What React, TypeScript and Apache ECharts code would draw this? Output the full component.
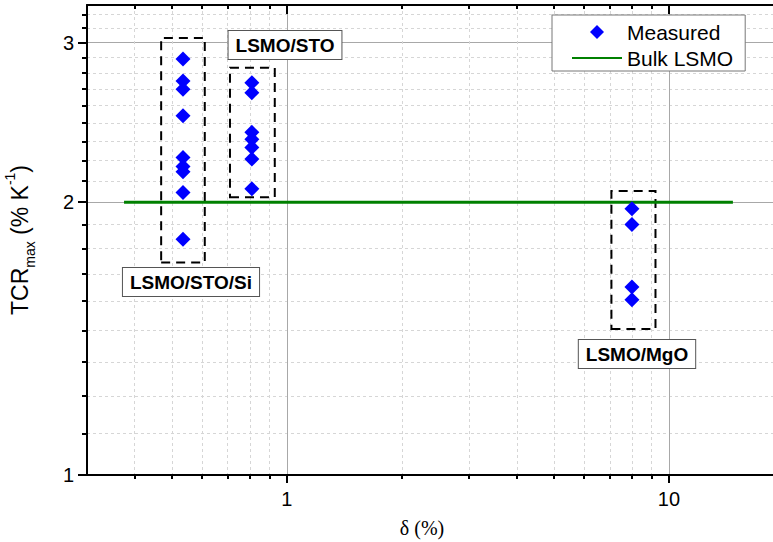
import React, { useEffect, useRef } from "react";
import * as echarts from "echarts";

// ---- data ----
const groupNames = ["LSMO/STO/Si", "LSMO/STO", "LSMO/MgO"];
const groupDelta = [0.535, 0.81, 8.0];
const tcrStoSi = [2.877, 2.72, 2.665, 2.49, 2.24, 2.19, 2.16, 2.05, 1.82];
const tcrSto = [2.709, 2.641, 2.388, 2.346, 2.298, 2.231, 2.069];
const tcrMgo = [1.967, 1.889, 1.612, 1.561];
const bulkDelta = [0.375, 14.7];
const bulkTcr = [2, 2];

// ---- ticks ----
const xMajorTicks = [1, 10];
const xMinorTicks = [0.4, 0.5, 0.6, 0.7, 0.8, 0.9, 2, 3, 4, 5, 6, 7, 8, 9, 20];
const yMajorTicks = [1, 2, 3];
const yMinorTicks = [
  1.111, 1.222, 1.333, 1.444, 1.556, 1.667, 1.778, 1.889,
  2.111, 2.222, 2.333, 2.444, 2.556, 2.667, 2.778, 2.889,
  3.111, 3.222,
];

// dashed group boxes (data space): [xMin, yMin, xMax, yMax]
const groupBoxes = [
  [0.469, 1.716, 0.61, 3.035],
  [0.71, 2.025, 0.93, 2.813],
  [7.07, 1.449, 9.22, 2.058],
];

const tcrGroups = [tcrStoSi, tcrSto, tcrMgo];

export default function App() {
  const ref = useRef<HTMLDivElement>(null);
  useEffect(() => {
    if (!ref.current) return;
    const chart = echarts.init(ref.current, null, { renderer: "svg" });
    const measured: number[][] = [];
    tcrGroups.forEach((arr, gi) => arr.forEach((v) => measured.push([groupDelta[gi], v])));
    const bulk = bulkDelta.map((d, i) => [d, bulkTcr[i]]);

    const font = "Liberation Sans, Arial, sans-serif";
    const baseX = { type: "log", min: 0.3, max: 20, gridIndex: 0 };
    const baseY = { type: "log", min: 1, max: 3.3, gridIndex: 0 };
    const labelBox = (text: string, x: number, y: number) => ({
      type: "text",
      x,
      y,
      z: 100,
      style: {
        text,
        x: 0,
        y: 0,
        align: "center",
        verticalAlign: "middle",
        font: `bold 19px ${font}`,
        fill: "#000",
        backgroundColor: "#fff",
        borderColor: "#555",
        borderWidth: 1,
        padding: [5, 7, 4, 7],
      },
    });

    chart.setOption({
      animation: false,
      backgroundColor: "#fff",
      grid: { left: 87, top: 5, right: -11, bottom: 67, containLabel: false, outerBoundsMode: "none" },
      legend: {
        orient: "vertical",
        left: 552,
        top: 15,
        itemWidth: 50,
        itemHeight: 14,
        itemGap: 4,
        padding: [6, 12, 2, 20],
        borderColor: "#777",
        borderWidth: 1,
        backgroundColor: "#fff",
        symbolKeepAspect: true,
        textStyle: { fontSize: 21, fontFamily: font, color: "#000", lineHeight: 22 },
        data: [
          { name: "Measured", icon: "path://M7,0 L14,7 L7,14 L0,7 Z", itemStyle: { color: "#0000ff", opacity: 1 } },
          { name: "Bulk LSMO", icon: "path://M0,0 L50,0 L50,2 L0,2 Z", itemStyle: { color: "#008000" } },
        ],
        z: 50,
      },
      xAxis: [
        {
          ...baseX,
          position: "bottom",
          axisLine: { show: true, lineStyle: { color: "#000", width: 2 } },
          axisTick: { show: true, customValues: xMajorTicks, length: 8, lineStyle: { color: "#000", width: 2 } },
          axisLabel: { customValues: xMajorTicks, fontSize: 20, fontFamily: font, color: "#000", margin: 14 },
          splitLine: { show: true, lineStyle: { color: "#a8a8a8", width: 1 } },
        },
        {
          ...baseX,
          position: "bottom",
          axisLine: { show: false },
          axisTick: { show: true, customValues: xMinorTicks, length: 4, lineStyle: { color: "#000", width: 2 } },
          axisLabel: { show: false },
          splitLine: { show: true, lineStyle: { color: "#d6d6d6", width: 1, type: [3, 3] } },
        },
        {
          ...baseX,
          position: "top",
          axisLine: { show: true, lineStyle: { color: "#000", width: 2 } },
          axisTick: { show: true, inside: true, customValues: xMajorTicks, length: 9, lineStyle: { color: "#000", width: 2 } },
          axisLabel: { show: false },
          splitLine: { show: false },
        },
        {
          ...baseX,
          position: "top",
          axisLine: { show: false },
          axisTick: { show: true, inside: true, customValues: xMinorTicks, length: 4, lineStyle: { color: "#000", width: 2 } },
          axisLabel: { show: false },
          splitLine: { show: false },
        },
      ],
      yAxis: [
        {
          ...baseY,
          position: "left",
          name: "{m|TCR}{s|max}{m| (% K}{p|-1}{m|)}",
          nameLocation: "middle",
          nameRotate: 90,
          nameGap: 50,
          nameTextStyle: {
            color: "#000",
            rich: {
              m: { fontSize: 23, fontFamily: font, color: "#000", lineHeight: 34 },
              s: { fontSize: 14, fontFamily: font, color: "#000", lineHeight: 14, verticalAlign: "bottom" },
              p: { fontSize: 14, fontFamily: font, color: "#000", lineHeight: 16, verticalAlign: "top" },
            },
          },
          axisLine: { show: true, lineStyle: { color: "#000", width: 2 } },
          axisTick: { show: true, customValues: yMajorTicks, length: 9, lineStyle: { color: "#000", width: 2 } },
          axisLabel: { customValues: yMajorTicks, fontSize: 20, fontFamily: font, color: "#000", margin: 13 },
          splitLine: { show: true, lineStyle: { color: "#a8a8a8", width: 1 } },
        },
        {
          ...baseY,
          position: "left",
          axisLine: { show: false },
          axisTick: { show: true, customValues: yMinorTicks, length: 5, lineStyle: { color: "#000", width: 2 } },
          axisLabel: { show: false },
          splitLine: { show: true, lineStyle: { color: "#d6d6d6", width: 1, type: [3, 3] } },
        },
      ],
      series: [
        {
          name: "Measured",
          type: "scatter",
          xAxisIndex: 0,
          yAxisIndex: 0,
          symbol: "diamond",
          symbolSize: 15,
          itemStyle: { color: "#0000ff", opacity: 1 },
          data: measured,
          z: 10,
          markArea: {
            silent: true,
            itemStyle: { color: "rgba(0,0,0,0)", borderColor: "#000", borderWidth: 2, borderType: [9, 6] },
            label: { show: false },
            data: groupBoxes.map((b) => [{ coord: [b[0], b[1]] }, { coord: [b[2], b[3]] }]),
          },
        },
        {
          name: "Bulk LSMO",
          type: "line",
          xAxisIndex: 0,
          yAxisIndex: 0,
          symbol: "none",
          lineStyle: { color: "#008000", width: 3 },
          itemStyle: { color: "#008000" },
          data: bulk,
          z: 5,
        },
      ],
      graphic: [
        labelBox(groupNames[0], 191, 282),
        labelBox(groupNames[1], 285, 45),
        labelBox(groupNames[2], 637, 354),
        {
          type: "text",
          x: 422,
          y: 528,
          style: {
            text: "δ (%)",
            x: 0,
            y: 0,
            align: "center",
            verticalAlign: "middle",
            font: "20px 'Liberation Serif', 'Times New Roman', serif",
            fill: "#000",
          },
        },
      ],
    });
    return () => chart.dispose();
  }, []);
  return (
    <div
      ref={ref}
      style={{ position: "fixed", left: 0, top: 0, width: 773, height: 542, background: "#fff" }}
    />
  );
}
